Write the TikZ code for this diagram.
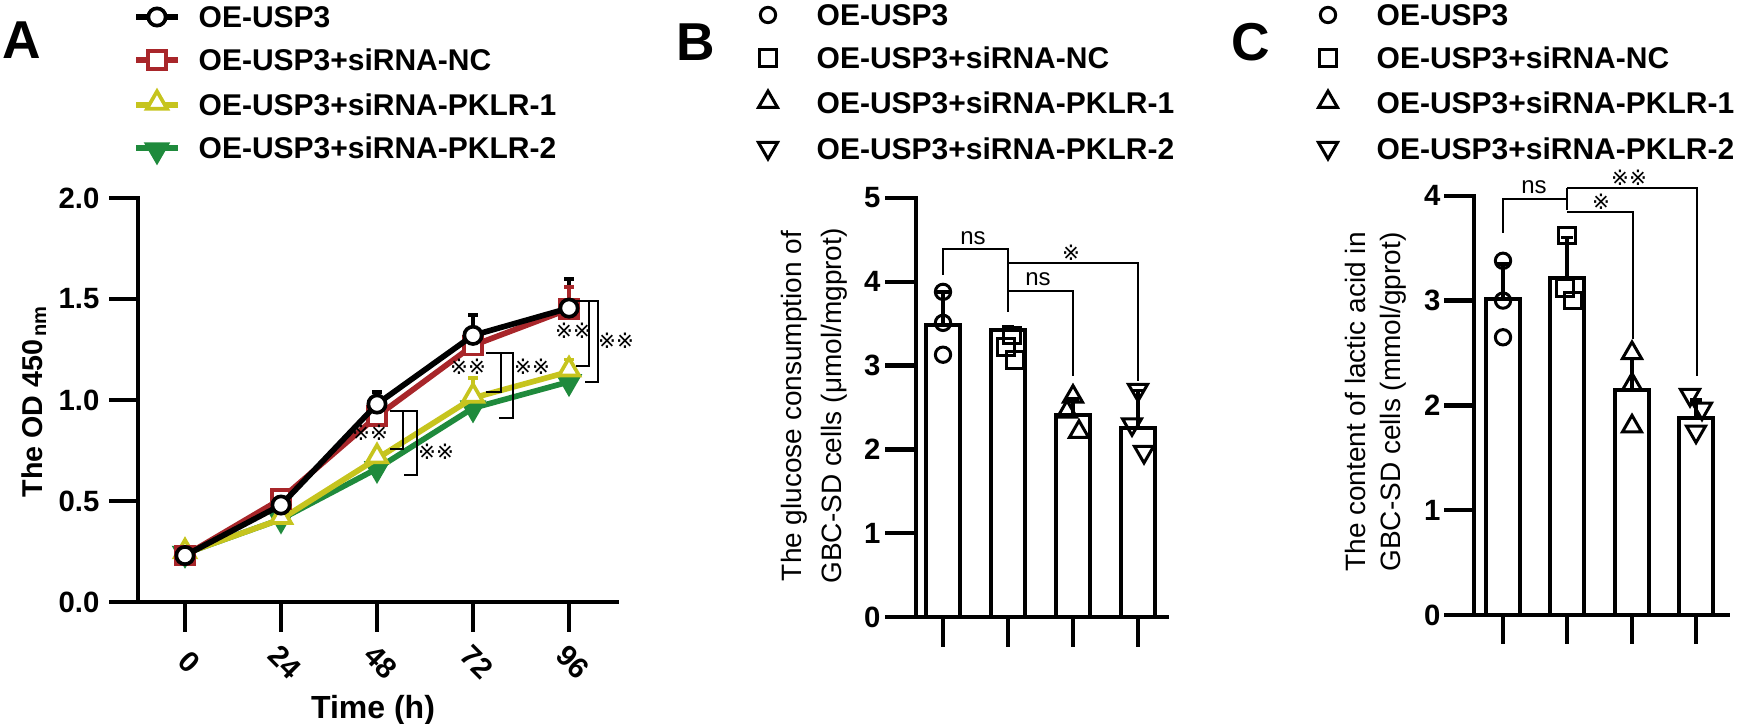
\documentclass[tikz,border=0pt]{standalone}
\usepackage{fontspec}
\setmainfont{Liberation Sans}
\newfontfamily\symf{DejaVu Sans}
\usetikzlibrary{shapes.geometric}
\definecolor{cR}{HTML}{A8262A}
\definecolor{cY}{HTML}{C6C41E}
\definecolor{cG}{HTML}{1F8A3C}
\tikzset{
 ax/.style={line width=1.3pt,line cap=rect},
 brk/.style={line width=0.45pt},
 mcirc/.style={circle,draw,line width=1.1pt,inner sep=0pt,minimum size=5.2pt,fill=white},
 msq/.style={rectangle,draw,line width=1.1pt,inner sep=0pt,minimum size=5.4pt,fill=white},
 mtri/.style={regular polygon,regular polygon sides=3,draw,line width=1.1pt,inner sep=0pt,minimum size=7pt,fill=white},
 mitri/.style={mtri,shape border rotate=180},
 bc/.style={mcirc,line width=0.9pt,minimum size=4.6pt,fill=none},
 bs/.style={msq,line width=0.9pt,minimum size=5pt,fill=none},
 bt/.style={mtri,line width=0.9pt,minimum size=6.6pt,fill=none},
 bi/.style={mitri,line width=0.9pt,minimum size=6.6pt,fill=none},
 leg/.style={anchor=west,font=\bfseries\fontsize{9.0}{10}\selectfont,inner sep=0pt},
 tickl/.style={font=\bfseries\fontsize{8.8}{10}\selectfont,anchor=east,inner sep=0pt},
 ylab/.style={font=\fontsize{8.4}{10}\selectfont,rotate=90,inner sep=0pt},
 star/.style={font=\symf\fontsize{6.4}{7}\selectfont,inner sep=0pt},
 nsl/.style={font=\fontsize{7.2}{8}\selectfont,inner sep=0pt},
 plet/.style={font=\bfseries\fontsize{16}{18}\selectfont,inner sep=0pt},
 sline/.style={line width=1.7pt},
}
\begin{document}
\begin{tikzpicture}[x=0.3pt,y=-0.3pt]
\useasboundingbox (0,0) rectangle (1746,724);
% ================= Panel A =================
\node[plet] (lA) at (22,40) {A};
\foreach \yy/\c/\t [count=\i] in {17/black/OE-USP3,60/cR/OE-USP3+siRNA-NC,105/cY/OE-USP3+siRNA-PKLR-1,148/cG/OE-USP3+siRNA-PKLR-2}{
  \draw[\c,sline] (136,\yy) -- (178,\yy);
  \node[leg] (legA\i) at (198,\yy) {\t};
}
\node[mcirc,draw=black] (lmA1) at (157,17) {};
\node[msq,draw=cR] (lmA2) at (157,60) {};
\node[mtri,draw=cY] (lmA3) at (157,103) {};
\node[mitri,draw=cG,fill=cG] (lmA4) at (157,150) {};
% axes
\draw[ax] (138,198) -- (138,602);
\draw[ax] (111,602) -- (617,602);
\foreach \v in {0.0,0.5,1.0,1.5,2.0}{
  \draw[ax] (111,{602-202*\v}) -- (138,{602-202*\v});
  \node[tickl] at (100,{602-202*\v}) {\v};
}
\foreach \xx/\t in {185/0,281/24,377/48,473/72,569/96}{
  \draw[ax] (\xx,602) -- (\xx,630);
  \node[font=\bfseries\fontsize{8.8}{10}\selectfont,rotate=-45,inner sep=0pt] at (\xx+4,662) {\t};
}
\node[font=\bfseries\fontsize{9.6}{10}\selectfont,inner sep=0pt] (tA) at (373,710) {Time (h)};
\node[ylab,font=\bfseries\fontsize{8.6}{10}\selectfont] (yA) at (34,401) {The OD 450\textsubscript{\,nm}};
% error bars
\foreach \xx/\a/\b/\c in {377/0.98/1.04/black,473/1.32/1.42/black,569/1.455/1.6/black,569/1.45/1.56/cR,473/1.01/1.11/cY,569/1.14/1.2/cY}{
  \draw[\c,line width=1.1pt] (\xx,{602-202*\a}) -- (\xx,{602-202*\b});
  \draw[\c,line width=1.1pt] (\xx-5,{602-202*\b}) -- (\xx+5,{602-202*\b});
}
% series
\draw[cG,sline] plot coordinates {(185,{602-202*0.24}) (281,{602-202*0.41}) (377,{602-202*0.66}) (473,{602-202*0.96}) (569,{602-202*1.09})};
\foreach \xx/\v in {185/0.24,281/0.41,377/0.66,473/0.96,569/1.09} \node[mitri,draw=cG,fill=cG] at (\xx,{602-202*\v}) {};
\draw[cY,sline] plot coordinates {(185,{602-202*0.24}) (281,{602-202*0.41}) (377,{602-202*0.71}) (473,{602-202*1.01}) (569,{602-202*1.14})};
\foreach \xx/\v in {185/0.24,281/0.41,377/0.71,473/1.01,569/1.14} \node[mtri,draw=cY] at (\xx,{602-202*\v-2}) {};
\draw[cR,sline] plot coordinates {(185,{602-202*0.23}) (281,{602-202*0.51}) (377,{602-202*0.92}) (473,{602-202*1.27}) (569,{602-202*1.45})};
\foreach \xx/\v in {185/0.23,281/0.51,377/0.92,473/1.27,569/1.45} \node[msq,draw=cR] at (\xx,{602-202*\v}) {};
\draw[black,sline] plot coordinates {(185,{602-202*0.23}) (281,{602-202*0.48}) (377,{602-202*0.98}) (473,{602-202*1.32}) (569,{602-202*1.455})};
\foreach \xx/\v in {185/0.23,281/0.48,377/0.98,473/1.32,569/1.455} \node[mcirc,draw=black] at (\xx,{602-202*\v}) {};
% significance brackets
\foreach \xa/\xb/\ya/\yb/\lx/\ly in {390/403/411/449/370/433, 404/417/411/475/436/452, 486/501/353/392/468/367, 499/513/353/418/532/367, 576/589/301/366/573/331, 585/598/301/382/616/341}{
  \draw[brk] (\xa,\ya) -- (\xb,\ya) -- (\xb,\yb) -- (\xa,\yb);
  \node[star] at (\lx,\ly) {※※};
}
% ================= Panel B =================
\node[plet] (lB) at (696,42) {B};
\node[bc] (lmB1) at (768,15) {};
\node[bs] (lmB2) at (768,58) {};
\node[bt] (lmB3) at (768,102) {};
\node[bi] (lmB4) at (768,148) {};
\foreach \yy/\t [count=\i] in {15/OE-USP3,58/OE-USP3+siRNA-NC,103/OE-USP3+siRNA-PKLR-1,149/OE-USP3+siRNA-PKLR-2}
  \node[leg] (legB\i) at (816,\yy) {\t};
\draw[ax] (916,198) -- (916,617);
\draw[ax] (887,617) -- (1167,617);
\foreach \v in {0,...,5}{
  \draw[ax] (887,{617-83.8*\v}) -- (916,{617-83.8*\v});
  \node[tickl] at (881,{617-83.8*\v}) {\v};
}
\foreach \xx/\h in {943/3.49,1008/3.43,1073/2.41,1138/2.26}{
  \draw[line width=1.2pt,fill=white] (\xx-17,617) rectangle (\xx+17,{617-83.8*\h});
  \draw[ax] (\xx,617) -- (\xx,645);
}
\foreach \xx/\a/\b in {943/3.49/3.88,1008/3.43/3.47,1073/2.41/2.6,1138/2.26/2.7}{
  \draw[line width=1pt] (\xx,{617-83.8*\a}) -- (\xx,{617-83.8*\b});
  \draw[line width=1pt] (\xx-6,{617-83.8*\b}) -- (\xx+6,{617-83.8*\b});
}
\foreach \v in {3.88,3.51,3.13} \node[bc] at (943,{617-83.8*\v}) {};
\foreach \dx/\v in {4/3.36,-2/3.22,7/3.07} \node[bs] at (1008+\dx,{617-83.8*\v}) {};
\foreach \dx/\v in {0/2.63,-6/2.45,6/2.21} \node[bt] at (1073+\dx,{617-83.8*\v}) {};
\foreach \dx/\v in {0/2.71,-6/2.3,6/1.97} \node[bi] at (1138+\dx,{617-83.8*\v}) {};
\node[ylab] (yB1) at (794,406) {The glucose consumption of};
\node[ylab] (yB2) at (834,406) {GBC-SD cells (μmol/mgprot)};
\draw[brk] (943,275) -- (943,249) -- (1008,249) -- (1008,312);
\node[nsl] at (973,238) {ns};
\draw[brk] (1008,263) -- (1138,263) -- (1138,381);
\node[star] at (1071,253) {※};
\draw[brk] (1008,291) -- (1073,291) -- (1073,376);
\node[nsl] at (1038,279) {ns};
% ================= Panel C =================
\node[plet] (lC) at (1251,42) {C};
\node[bc] (lmC1) at (1328,15) {};
\node[bs] (lmC2) at (1328,58) {};
\node[bt] (lmC3) at (1328,102) {};
\node[bi] (lmC4) at (1328,148) {};
\foreach \yy/\t [count=\i] in {15/OE-USP3,58/OE-USP3+siRNA-NC,103/OE-USP3+siRNA-PKLR-1,149/OE-USP3+siRNA-PKLR-2}
  \node[leg] (legC\i) at (1376,\yy) {\t};
\draw[ax] (1474,196) -- (1474,615);
\draw[ax] (1446,615) -- (1728,615);
\foreach \v in {0,...,4}{
  \draw[ax] (1446,{615-104.8*\v}) -- (1474,{615-104.8*\v});
  \node[tickl] at (1441,{615-104.8*\v}) {\v};
}
\foreach \xx/\h in {1503/3.02,1567/3.22,1632/2.15,1696/1.88}{
  \draw[line width=1.2pt,fill=white] (\xx-17,615) rectangle (\xx+17,{615-104.8*\h});
  \draw[ax] (\xx,615) -- (\xx,642);
}
\foreach \xx/\a/\b in {1503/3.02/3.35,1567/3.22/3.6,1632/2.15/2.45,1696/1.88/2.05}{
  \draw[line width=1pt] (\xx,{615-104.8*\a}) -- (\xx,{615-104.8*\b});
  \draw[line width=1pt] (\xx-6,{615-104.8*\b}) -- (\xx+6,{615-104.8*\b});
}
\foreach \v in {3.38,3.0,2.65} \node[bc] at (1503,{615-104.8*\v}) {};
\foreach \dx/\v in {0/3.62,-2/3.12,6/3.0} \node[bs] at (1567+\dx,{615-104.8*\v}) {};
\foreach \v in {2.5,2.2,1.8} \node[bt] at (1632,{615-104.8*\v}) {};
\foreach \dx/\v in {-6/2.1,6/1.97,0/1.75} \node[bi] at (1696+\dx,{615-104.8*\v}) {};
\node[ylab] (yC1) at (1355,402) {The content of lactic acid in};
\node[ylab] (yC2) at (1393,402) {GBC-SD cells (mmol/gprot)};
\draw[brk] (1503,233) -- (1503,199) -- (1567,199);
\draw[brk] (1567,188) -- (1567,210);
\node[nsl] at (1534,187) {ns};
\draw[brk] (1567,188) -- (1697,188) -- (1697,376);
\node[star] at (1629,178) {※※};
\draw[brk] (1567,212) -- (1633,212) -- (1633,339);
\node[star] at (1601,202) {※};
\end{tikzpicture}
\end{document}
